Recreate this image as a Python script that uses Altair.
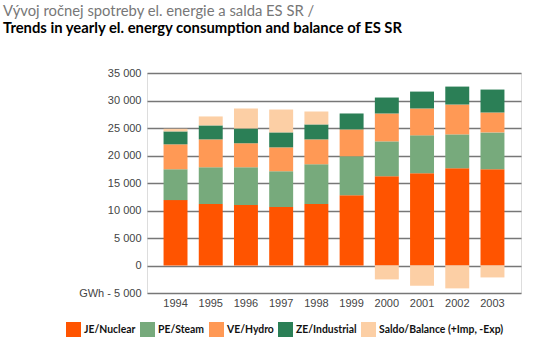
import altair as alt
import pandas as pd

years = ["1994", "1995", "1996", "1997", "1998", "1999", "2000", "2001", "2002", "2003"]
nuclear = [11890, 11160, 10980, 10620, 11160, 12790, 16230, 16780, 17680, 17500]
steam = [5610, 6700, 6880, 6520, 7250, 7070, 6340, 6880, 6160, 6700]
hydro = [4530, 5070, 4350, 4340, 4520, 4880, 5070, 4890, 5430, 3620]
industrial = [2350, 2540, 2710, 2720, 2720, 2900, 2900, 3070, 3260, 4170]
balance = [480, 1630, 3630, 4160, 2350, 0, -2530, -3680, -4160, -2170]

series = ["JE/Nuclear", "PE/Steam", "VE/Hydro", "ZE/Industrial", "Saldo/Balance  (+Imp, -Exp)"]
colors = ["#FF5400", "#77AA7C", "#FF9955", "#2B7F56", "#FCCFA5"]
y_ticks = [-5000, 0, 5000, 10000, 15000, 20000, 25000, 30000, 35000]

rows = []
for i, y in enumerate(years):
    for k, vals in enumerate([nuclear, steam, hydro, industrial, balance]):
        rows.append({"year": y, "series": series[k], "value": vals[i], "order": k})
df = pd.DataFrame(rows)

chart = alt.Chart(df).mark_bar().encode(
    x=alt.X("year:N", sort=years,
            scale=alt.Scale(paddingInner=0.32, paddingOuter=0.47),
            axis=alt.Axis(title=None, labelAngle=0, ticks=False, domain=False,
                          labelPadding=4, labelFont="Liberation Sans", labelFontSize=11,
                          labelColor="#444")),
    y=alt.Y("value:Q", stack="zero",
            scale=alt.Scale(domain=[-5000, 35000], nice=False, zero=False),
            axis=alt.Axis(title=None, values=y_ticks, ticks=False, domain=False, grid=True,
                          gridColor="#777", gridWidth=1.5, labelPadding=6,
                          labelFont="Liberation Sans", labelFontSize=11, labelColor="#444",
                          labelExpr="datum.value == -5000 ? 'GWh  - 5 000' : replace(format(datum.value, ','), ',', ' ')")),
    color=alt.Color("series:N", sort=series,
                    scale=alt.Scale(domain=series, range=colors),
                    legend=alt.Legend(title=None, orient="none", legendX=-81, legendY=249,
                                      direction="horizontal", symbolType="square",
                                      symbolSize=225, symbolStrokeWidth=0, symbolOpacity=1,
                                      labelFont="Lato", labelFontSize=10.4, labelFontWeight="bold",
                                      labelColor="#111", columnPadding=4, labelOffset=3,
                                      labelLimit=300)),
    order=alt.Order("order:Q"),
).properties(
    width=374, height=220,
    autosize=alt.AutoSizeParams(type="none"),
    padding={"left": 147, "top": 73, "right": 19, "bottom": 52},
    title=alt.TitleParams(
        text="Vývoj ročnej spotreby el. energie a salda  ES SR /",
        subtitle="Trends in yearly el. energy consumption and balance of  ES SR",
        anchor="start", frame="group", dx=-144, offset=31,
        font="Lato", fontSize=14.8, fontWeight="normal", color="#777",
        subtitleFont="Lato", subtitleFontSize=14.8, subtitleFontWeight="bold",
        subtitleColor="#000", subtitlePadding=2),
).configure_view(stroke="#777", strokeWidth=1.5).configure(background="white")

chart.save("out.html", embed_options={"renderer": "svg", "actions": False})
